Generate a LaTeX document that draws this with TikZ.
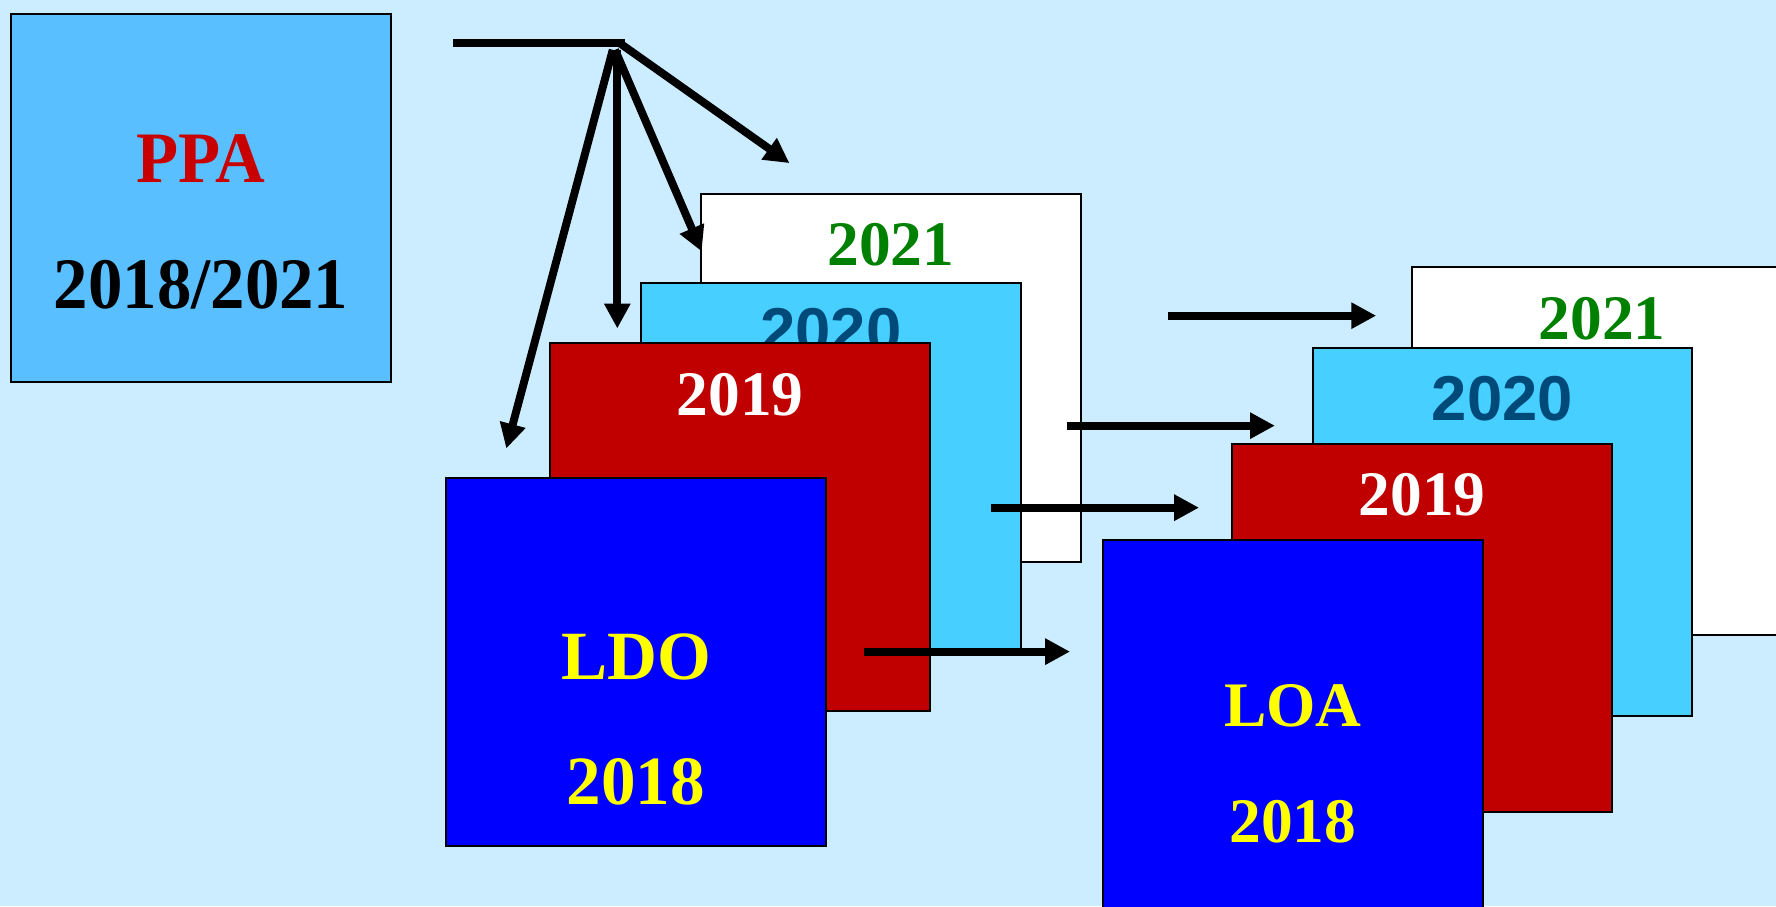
\documentclass[tikz,border=0pt]{standalone}
\usepackage{fontspec}
\setmainfont{Liberation Serif}
\setsansfont{Liberation Sans}
\newfontfamily\narrowserif[FakeStretch=0.95]{Liberation Serif}
\usetikzlibrary{arrows.meta}
\definecolor{bg}{RGB}{204,236,255}
\definecolor{ppafill}{RGB}{90,191,255}
\definecolor{cyanbox}{RGB}{71,208,255}
\definecolor{redbox}{RGB}{192,0,0}
\definecolor{bluebox}{RGB}{0,0,255}
\definecolor{yeltext}{RGB}{255,255,0}
\definecolor{greentext}{RGB}{0,128,0}
\definecolor{tealtext}{RGB}{0,74,122}
\definecolor{ppared}{RGB}{200,0,0}
\begin{document}
\begin{tikzpicture}[x=0.5pt,y=-0.5pt,
  card/.style={draw=black, line width=0.9pt, anchor=north west, inner sep=0pt, outer sep=0pt,
    minimum width=167.5pt, minimum height=162.5pt},
  lbl/.style={anchor=base, inner sep=0pt, font=\bfseries\fontsize{28}{30}\selectfont},
  big/.style={anchor=base, inner sep=0pt, font=\narrowserif\bfseries\fontsize{32}{36}\selectfont},
  mid/.style={anchor=base, inner sep=0pt, font=\bfseries\fontsize{30.5}{34}\selectfont},
  sanslbl/.style={anchor=base, inner sep=0pt, font=\sffamily\bfseries\fontsize{28}{30}\selectfont, text=tealtext},
  arr/.style={line width=3.5pt, -{Triangle[length=11pt,width=11pt]}}
]
\fill[bg] (0,0) rectangle (1568,800);
\useasboundingbox (0,0) rectangle (1568,800);
\clip (0,0) rectangle (1568,800);

% PPA box
\node[card, fill=ppafill] (ppa) at (10,12) {};
\node[big, text=ppared] (ppat) at (177.5,161.5) {PPA};
\node[big, text=black] (ppay) at (177.5,272) {2018/2021};

% left stack
\node[card, fill=white] (l21) at (619,171) {};
\node[lbl, text=greentext] (l21t) at (786.5,234) {2021};
\node[card, fill=cyanbox] (l20) at (566,250) {};
\node[sanslbl] (l20t) at (733.5,311.5) {2020};
\node[card, fill=redbox] (l19) at (486,303) {};
\node[lbl, text=white] (l19t) at (653.5,366.4) {2019};
\node[card, fill=bluebox] (ldo) at (394,422) {};
\node[mid, text=yeltext] (ldot) at (561.5,600.3) {LDO};
\node[mid, text=yeltext] (ldoy) at (561.5,710.7) {2018};

% right stack
\node[card, fill=white] (r21) at (1247,236) {};
\node[lbl, text=greentext] (r21t) at (1414.5,299.3) {2021};
\node[card, fill=cyanbox] (r20) at (1159,307) {};
\node[sanslbl] (r20t) at (1326.5,370.8) {2020};
\node[card, fill=redbox] (r19) at (1088,392) {};
\node[lbl, text=white] (r19t) at (1255.5,454.7) {2019};
\node[card, fill=bluebox] (loa) at (974,477) {};
\node[lbl, text=yeltext] (loat) at (1141.5,641) {LOA};
\node[lbl, text=yeltext] (loay) at (1141.5,743.4) {2018};

% connectors
\coordinate (bar) at (400,38);
\coordinate (hub) at (552,38);
\coordinate (h1) at (547,38);
\coordinate (h2) at (543,44);
\coordinate (h3) at (545,44);
\coordinate (h4) at (541,44);
\coordinate (t1) at (697,144);
\coordinate (t2) at (619.5,222);
\coordinate (t3) at (545,290);
\coordinate (t4) at (447,396);
\draw[line width=3.5pt] (bar) -- (hub);
\draw[arr] (h1) -- (t1);
\draw[arr] (h2) -- (t2);
\draw[arr] (h3) -- (t3);
\draw[arr] (h4) -- (t4);

\coordinate (a1) at (1031,278.7);
\coordinate (b1) at (1215,278.7);
\coordinate (a2) at (942,375.8);
\coordinate (b2) at (1125.6,375.8);
\coordinate (a3) at (875,448.2);
\coordinate (b3) at (1058.6,448.2);
\coordinate (a4) at (762.7,575.3);
\coordinate (b4) at (944.7,575.3);
\draw[arr] (a1) -- (b1);
\draw[arr] (a2) -- (b2);
\draw[arr] (a3) -- (b3);
\draw[arr] (a4) -- (b4);
\end{tikzpicture}
\end{document}
